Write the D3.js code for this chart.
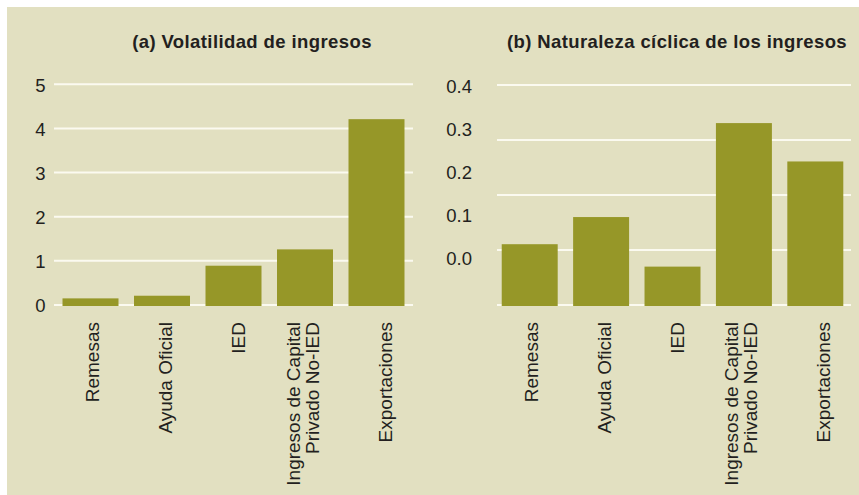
<!DOCTYPE html>
<html>
<head>
<meta charset="utf-8">
<script src="https://cdn.jsdelivr.net/npm/d3@7"></script>
<style>
  html, body { margin: 0; padding: 0; background: #ffffff; }
  svg { display: block; }
  text { font-family: "Liberation Sans", Arial, Helvetica, sans-serif; fill: #231f20; }
</style>
</head>
<body>
<svg id="chart" width="859" height="495"></svg>
<script>
// ---- data ----
const categories = ["Remesas", "Ayuda Oficial", "IED", "Ingresos de Capital\nPrivado No-IED", "Exportaciones"];
const volatility = [0.15, 0.21, 0.89, 1.26, 4.21];
const cyclicality = [0.032, 0.095, -0.020, 0.313, 0.224];
const volatilityTicks = [0, 1, 2, 3, 4, 5];
const cyclicalityTicks = [0.0, 0.1, 0.2, 0.3, 0.4];
const titles = ["(a) Volatilidad de ingresos", "(b) Naturaleza cíclica de los ingresos"];

// ---- style ----
const BG = "#e2e0c1";
const BAR = "#969728";
const GRID = "#fbfaf0";

const svg = d3.select("#chart");
svg.append("rect").attr("x", 0).attr("y", 0).attr("width", 859).attr("height", 495).attr("fill", "#ffffff");
svg.append("rect").attr("x", 7).attr("y", 7).attr("width", 852).attr("height", 488).attr("fill", BG);

function drawLabels(g, labelScale, top) {
  categories.forEach(c => {
    const lines = c.split("\n");
    const n = lines.length;
    const t = g.append("text")
      .attr("transform", `translate(${labelScale(c)},${top}) rotate(-90)`)
      .attr("text-anchor", "end")
      .style("font-size", "19px");
    lines.forEach((ln, i) => {
      t.append("tspan")
        .attr("x", 0)
        .attr("dy", i === 0 ? `${0.36 - (n - 1) * 1.0}em` : "1.0em")
        .text(ln);
    });
  });
}

// ---- panel (a) ----
{
  const g = svg.append("g");
  const x = d3.scaleBand().domain(categories).range([54, 413]).paddingInner(0.217).paddingOuter(0.119);
  const y = d3.scaleLinear().domain([0, 5]).range([305, 84.3]);
  const lab = d3.scalePoint().domain(categories).range([91.7, 385.5]);

  g.selectAll("line.grid").data(volatilityTicks).join("line")
    .attr("x1", 54).attr("x2", 413)
    .attr("y1", d => y(d)).attr("y2", d => y(d))
    .attr("stroke", GRID).attr("stroke-width", 2);

  g.selectAll("rect.bar").data(volatility).join("rect")
    .attr("x", (d, i) => x(categories[i]))
    .attr("width", x.bandwidth())
    .attr("y", d => y(d))
    .attr("height", d => y(0) + 1 - y(d))
    .attr("fill", BAR);

  g.selectAll("text.tick").data(volatilityTicks).join("text")
    .attr("x", 45.5).attr("y", d => y(d)).attr("dy", "0.4em")
    .attr("text-anchor", "end").style("font-size", "18.5px")
    .text(d => d3.format("d")(d));

  g.append("text").attr("x", 252).attr("y", 48).attr("text-anchor", "middle")
    .style("font-size", "18.5px").style("font-weight", "bold").style("letter-spacing", "0.4px")
    .text(titles[0]);

  drawLabels(g, lab, 322);
}

// ---- panel (b) ----
{
  const g = svg.append("g");
  const x = d3.scaleBand().domain(categories).range([497, 851]).paddingInner(0.216).paddingOuter(0.087).align(0.38);
  const y = d3.scaleLinear().domain([0, 0.4]).range([258, 85.6]);
  const grid = d3.scaleLinear().domain([0, cyclicalityTicks.length - 1]).range([305, 85]);
  const lab = d3.scalePoint().domain(categories).range([530.8, 823]);
  const bottom = grid(0);

  g.selectAll("line.grid").data(d3.range(cyclicalityTicks.length)).join("line")
    .attr("x1", 497).attr("x2", 851)
    .attr("y1", d => grid(d)).attr("y2", d => grid(d))
    .attr("stroke", GRID).attr("stroke-width", 2);

  g.selectAll("rect.bar").data(cyclicality).join("rect")
    .attr("x", (d, i) => x(categories[i]))
    .attr("width", x.bandwidth())
    .attr("y", d => y(d))
    .attr("height", d => bottom + 1 - y(d))
    .attr("fill", BAR);

  g.selectAll("text.tick").data(cyclicalityTicks).join("text")
    .attr("x", 472).attr("y", d => y(d)).attr("dy", "0.4em")
    .attr("text-anchor", "end").style("font-size", "18.5px")
    .text(d => d3.format(".1f")(d));

  g.append("text").attr("x", 677).attr("y", 48).attr("text-anchor", "middle")
    .style("font-size", "18.5px").style("font-weight", "bold").style("letter-spacing", "0.4px")
    .text(titles[1]);

  drawLabels(g, lab, 322);
}
</script>
</body>
</html>
